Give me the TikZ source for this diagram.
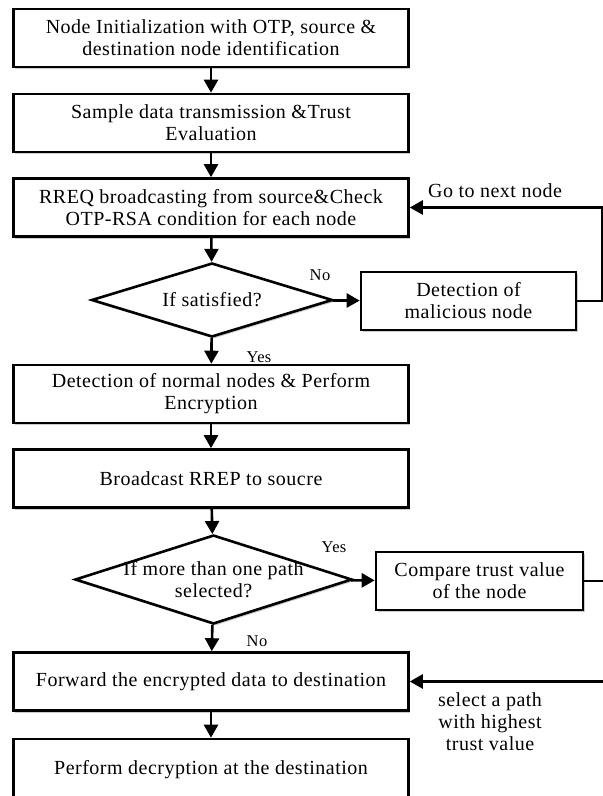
\documentclass[tikz,border=0pt]{standalone}
\usepackage{fontspec}
\setmainfont{Liberation Serif}[LetterSpace=2.5]
\usepackage{tikz}
\usetikzlibrary{positioning,shapes.geometric,arrows.meta,shadows}

\begin{document}
\begin{tikzpicture}[x=1pt, y=1pt,
  every node/.style={font=\fontsize{20}{22}\selectfont},
  stepbox/.style={draw, line width=2.6pt, fill=white, align=center, inner sep=0pt,
    minimum width=395pt, minimum height=58pt,
    drop shadow={shadow xshift=1.5pt, shadow yshift=-2pt, fill=black!40, opacity=0.5}},
  sidebox/.style={stepbox, minimum width=210pt},
  decision/.style={diamond, draw, line width=2.6pt, fill=white, inner sep=0pt,
    drop shadow={shadow xshift=1.5pt, shadow yshift=-2pt, fill=black!40, opacity=0.5}},
  flow/.style={line width=2.6pt, -{Triangle[length=13pt, width=14pt]}},
  tag/.style={font=\fontsize{16.5}{18}\selectfont, inner sep=1pt}]
  \useasboundingbox (0,0) rectangle (603,-796);
  \node[stepbox] (s1) at (211,-38) {Node Initialization with OTP, source \&\\destination node identification};
  \node[stepbox] (s2) at (211,-123) {Sample data transmission \&Trust\\Evaluation};
  \node[stepbox] (s3) at (211,-207.5) {RREQ broadcasting from source\&Check\\OTP-RSA condition for each node};
  \node[decision, minimum width=241pt, minimum height=74pt] (d1) at (212,-300) {};
  \node[align=center] (d1txt) at (d1) {If satisfied?};
  \node[sidebox, minimum width=215pt] (mal) at (468.5,-301) {Detection of\\malicious node};
  \node[stepbox] (s4) at (211,-394) {Detection of normal nodes \& Perform\\Encryption};
  \node[stepbox] (s5) at (211,-478.5) {Broadcast RREP to soucre};
  \node[decision, minimum width=277pt, minimum height=89pt] (d2) at (213.5,-579.5) {};
  \node[align=center] (d2txt) at (d2) {If more than one path\\selected?};
  \node[sidebox, minimum width=207pt] (cmp) at (479.5,-581) {Compare trust value\\of the node};
  \node[stepbox] (s6) at (211,-681.5) {Forward the encrypted data to destination};
  \node[stepbox, minimum height=62pt] (s7) at (211,-770) {Perform decryption at the destination};
  \coordinate (loopx) at (602,0);
  \coordinate (edgex) at (610,0);
  \draw[flow] (s1) -- (s2);
  \draw[flow] (s2) -- (s3);
  \draw[flow] (s3) -- (d1);
  \draw[flow] (d1) -- (s4);
  \draw[flow] (d1) -- (mal);
  \draw[flow] (mal.east) -- (mal.east -| loopx) |- (s3.east);
  \draw[flow] (s4) -- (s5);
  \draw[flow] (s5) -- (d2);
  \draw[flow] (d2) -- (cmp);
  \draw[line width=2.6pt] (cmp.east) -- (cmp.east -| edgex);
  \draw[flow] (d2) -- (s6);
  \draw[flow] (s6.east -| edgex) -- (s6.east);
  \draw[flow] (s6) -- (s7);
  \node[tag] (no1) at (320,-275) {No};
  \node[tag] (yes1) at (259,-357) {Yes};
  \node[inner sep=1pt] (next) at (495,-191) {Go to next node};
  \node[tag] (yes2) at (334,-547) {Yes};
  \node[tag] (no2) at (257,-641) {No};
  \node[align=center, inner sep=1pt] (pick) at (490,-722) {select a path\\with highest\\trust value};
\end{tikzpicture}
\end{document}
